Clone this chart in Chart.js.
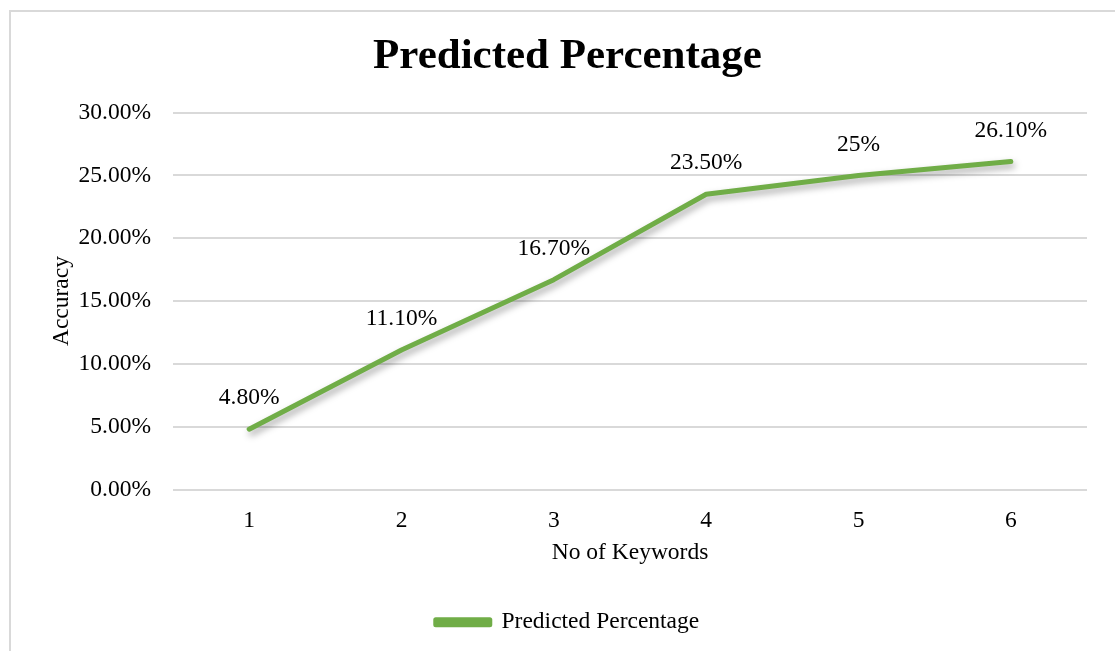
<!DOCTYPE html>
<html>
<head>
<meta charset="utf-8">
<script src="https://cdn.jsdelivr.net/npm/chart.js@4"></script>
<style>
  body { margin: 0; background: #fff; }
  #frame { position: absolute; left: 9px; top: 10px; width: 1120px; height: 660px; border: 2px solid #d9d9d9; }
  #wrap { position: absolute; left: 0; top: 0; width: 1115px; height: 651px; }
</style>
</head>
<body>
<div id="frame"></div>
<div id="wrap"><canvas id="myChart" width="1115" height="651"></canvas></div>
<script>
var categorias = ['1', '2', '3', '4', '5', '6'];
var valores = [4.8, 11.1, 16.7, 23.5, 25, 26.1];
var rotulos = ['4.80%', '11.10%', '16.70%', '23.50%', '25%', '26.10%'];
var verde = '#70ad47';
var fonte = "'Liberation Serif', 'Times New Roman', serif";
var tam = 23.5;

// sombra da linha e rótulos de dados
var extras = {
    id: 'extras',
    beforeDatasetDraw: function (chart) {
        var c = chart.ctx;
        c.save();
        c.shadowColor = 'rgba(0,0,0,0.35)';
        c.shadowBlur = 7;
        c.shadowOffsetX = 2;
        c.shadowOffsetY = 4;
    },
    afterDatasetDraw: function (chart) {
        chart.ctx.restore();
    },
    afterDatasetsDraw: function (chart) {
        var c = chart.ctx;
        var meta = chart.getDatasetMeta(0);
        c.save();
        c.font = tam + 'px ' + fonte;
        c.fillStyle = '#000';
        c.textAlign = 'center';
        c.textBaseline = 'middle';
        meta.data.forEach(function (p, i) {
            c.fillText(rotulos[i], p.x, p.y - 31);
        });
        c.restore();
    }
};

var ctx = document.getElementById('myChart').getContext('2d');
var myChart = new Chart(ctx, {
    type: 'line',
    data: {
        labels: categorias,
        datasets: [{
            label: 'Predicted Percentage',
            data: valores,
            borderColor: verde,
            backgroundColor: verde,
            borderWidth: 5,
            borderCapStyle: 'round',
            borderJoinStyle: 'round',
            pointRadius: 0,
            tension: 0
        }]
    },
    options: {
        responsive: false,
        animation: false,
        layout: { padding: { left: 48, right: 28, top: 18, bottom: 7 } },
        scales: {
            x: {
                offset: true,
                afterFit: function (s) { s.height = 111; },
                grid: { display: false, drawTicks: false },
                border: { display: false },
                ticks: { color: '#000', font: { family: fonte, size: tam }, padding: 17 },
                title: { display: true, text: 'No of Keywords', color: '#000', font: { family: fonte, size: tam }, padding: { top: 4, bottom: 34 } }
            },
            y: {
                min: 0,
                max: 30,
                afterFit: function (s) { s.width = 125; },
                grid: { color: '#d9d9d9', lineWidth: 2, drawTicks: false },
                border: { display: false },
                ticks: {
                    stepSize: 5,
                    color: '#000',
                    padding: 22,
                    font: { family: fonte, size: tam },
                    callback: function (v) { return v.toFixed(2) + '%'; }
                },
                title: { display: true, text: 'Accuracy', color: '#000', font: { family: fonte, size: tam }, padding: { top: 0, bottom: 0 } }
            }
        },
        plugins: {
            title: {
                display: true,
                text: 'Predicted Percentage',
                color: '#000',
                font: { family: fonte, size: 43, weight: 'bold' },
                padding: { top: 13, bottom: 30 }
            },
            legend: {
                position: 'bottom',
                labels: {
                    color: '#000',
                    font: { family: fonte, size: tam },
                    boxWidth: 54,
                    boxHeight: 5,
                    padding: 10
                }
            },
            tooltip: { enabled: false }
        }
    },
    plugins: [extras]
});
</script>
</body>
</html>
